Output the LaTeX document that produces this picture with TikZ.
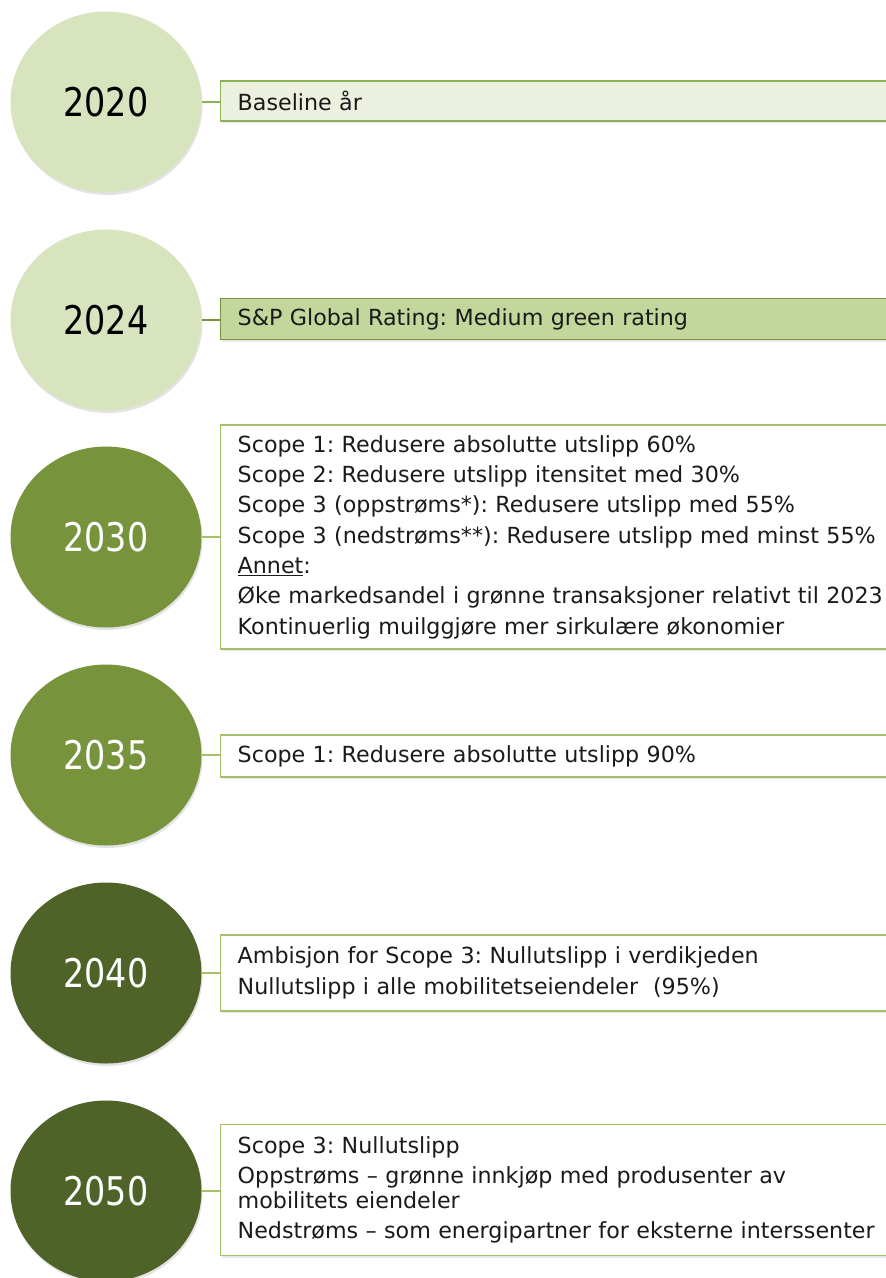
\documentclass[tikz,border=0pt]{standalone}
\usepackage{fontspec}
\setmainfont{DejaVu Sans}
\newfontfamily\yearfont[FakeStretch=0.845]{DejaVu Sans}
\usetikzlibrary{shadows,shapes.geometric}
\definecolor{lightc}{HTML}{D7E4BD}
\definecolor{midc}{HTML}{77933C}
\definecolor{darkc}{HTML}{4F6228}
\definecolor{paleFill}{HTML}{EBF1DE}
\definecolor{medFill}{HTML}{C3D69B}
\definecolor{borderA}{HTML}{8DB255}
\definecolor{borderB}{HTML}{77933C}
\definecolor{borderC}{HTML}{A3C06A}
\definecolor{txt}{HTML}{1A1A1A}
\begin{document}
\frenchspacing
\begin{tikzpicture}[x=1pt,y=-1pt,
  year/.style={ellipse, minimum width=191pt, minimum height=181pt, inner sep=0pt,
    font=\yearfont\fontsize{39.5}{42}\selectfont,
    drop shadow={opacity=0.22, shadow xshift=1pt, shadow yshift=-2.5pt}},
  yearlight/.style={year, fill=lightc, text=black},
  yearmid/.style={year, fill=midc, text=white},
  yeardark/.style={year, fill=darkc, text=white},
  box/.style={draw=borderC, fill=white, line width=1.4pt, anchor=west,
    text width=650pt, align=left, inner xsep=17pt, inner ysep=0pt,
    text=txt, font=\fontsize{22.2}{30.3}\selectfont,
    drop shadow={opacity=0.18, shadow xshift=1.5pt, shadow yshift=-2pt}},
  conn/.style={draw=borderC, line width=1.4pt}
]
\useasboundingbox (0,0) rectangle (886,1278);
\clip (0,0) rectangle (886,1278);
\fill[white] (0,0) rectangle (886,1278);

% circles
\node[yearlight] (c1) at (106,102) {2020};
\node[yearlight] (c2) at (106,320) {2024};
\node[yearmid]   (c3) at (106,537) {2030};
\node[yearmid]   (c4) at (106,755) {2035};
\node[yeardark]  (c5) at (106,973) {2040};
\node[yeardark]  (c6) at (106,1191) {2050};

% boxes
\node[box, draw=borderA, fill=paleFill, minimum height=40pt] (b1) at (220,101) {Baseline år};
\node[box, draw=borderB, fill=medFill, minimum height=41pt] (b2) at (220,319) {S\&P Global Rating: Medium green rating};
\node[box, minimum height=224pt] (b3) at (220,537) {Scope 1: Redusere absolutte utslipp 60\%\\
Scope 2: Redusere utslipp itensitet med 30\%\\
Scope 3 (oppstrøms*): Redusere utslipp med 55\%\\
Scope 3 (nedstrøms**): Redusere utslipp med minst 55\%\\
\underline{Annet}:\\
Øke markedsandel i grønne transaksjoner relativt til 2023\\
Kontinuerlig muilggjøre mer sirkulære økonomier};
\node[box, minimum height=42pt] (b4) at (220,756) {Scope 1: Redusere absolutte utslipp 90\%};
\node[box, minimum height=76pt] (b5) at (220,973) {Ambisjon for Scope 3: Nullutslipp i verdikjeden\\
Nullutslipp i alle mobilitetseiendeler~ (95\%)};
\node[box, minimum height=131pt] (b6) at (220,1190) {Scope 3: Nullutslipp\\
Oppstrøms – grønne innkjøp med produsenter av\\[-6pt]
mobilitets eiendeler\\
Nedstrøms – som energipartner for eksterne interssenter};

% connectors
\draw[conn, draw=borderA] (c1.east) -- (c1.east -| b1.west);
\draw[conn, draw=borderB] (c2.east) -- (c2.east -| b2.west);
\draw[conn] (c3.east) -- (c3.east -| b3.west);
\draw[conn] (c4.east) -- (c4.east -| b4.west);
\draw[conn] (c5.east) -- (c5.east -| b5.west);
\draw[conn] (c6.east) -- (c6.east -| b6.west);
\end{tikzpicture}
\end{document}
